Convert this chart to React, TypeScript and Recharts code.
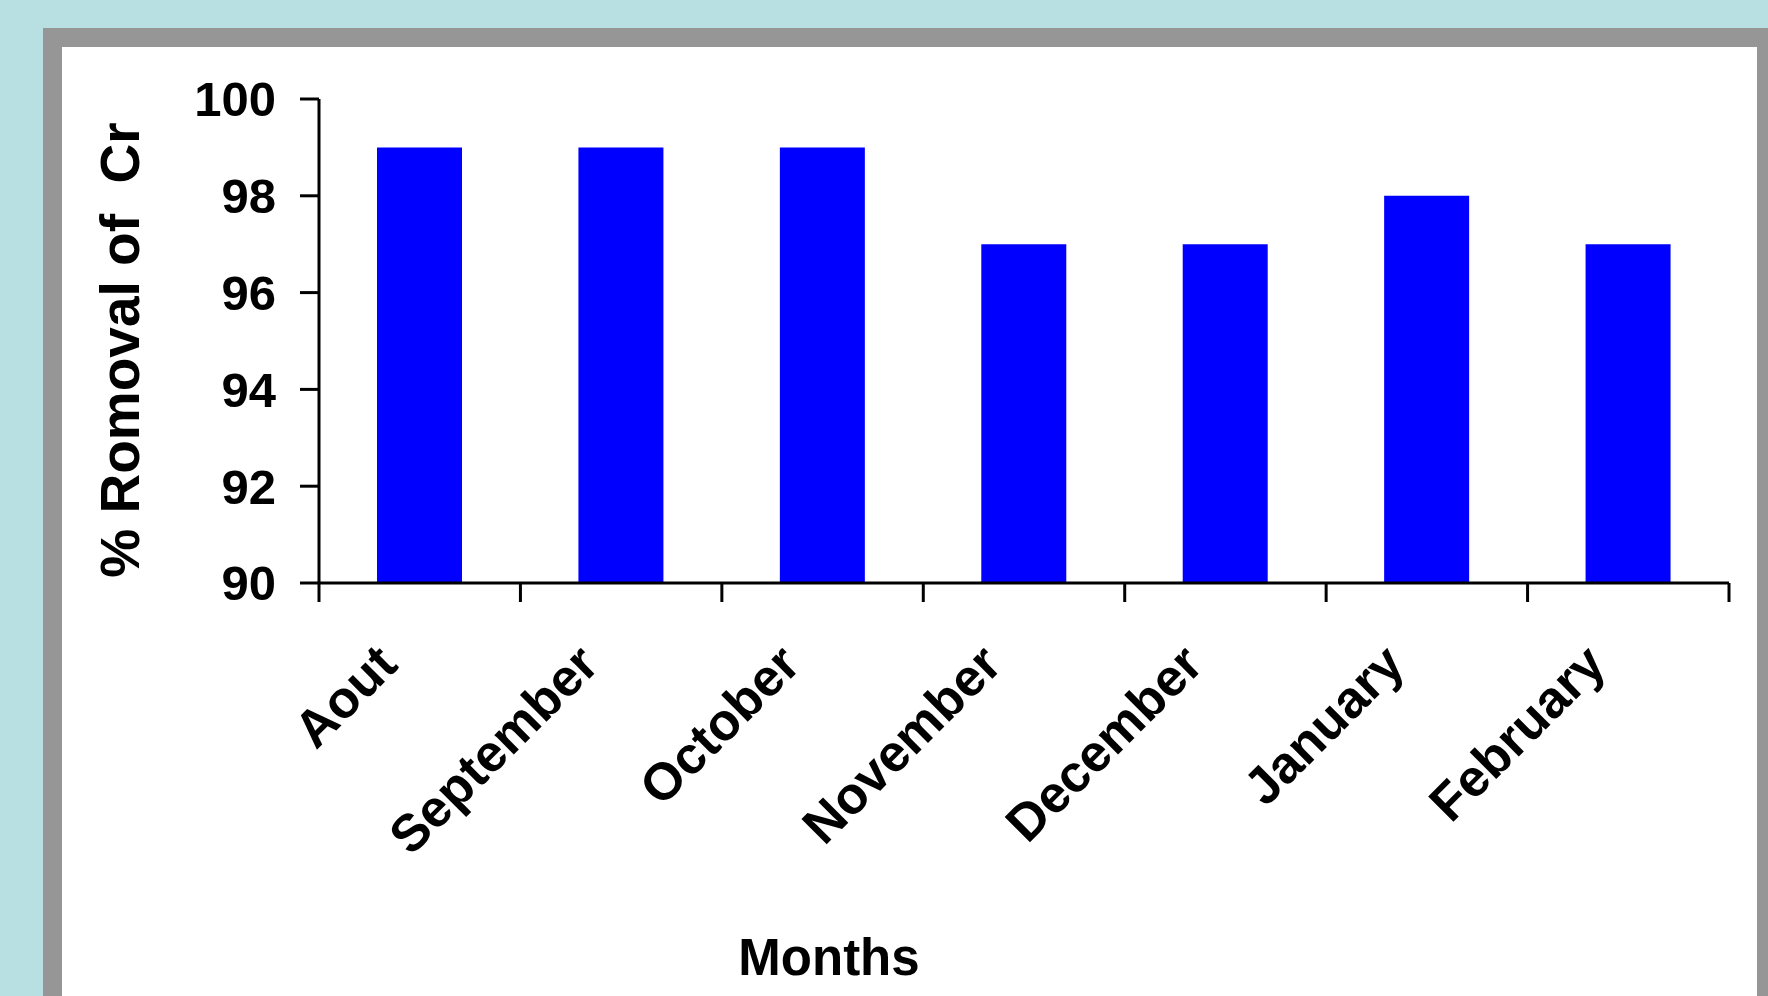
import { BarChart, Bar, XAxis, YAxis } from 'recharts'

const months = ['Aout', 'September', 'October', 'November', 'December', 'January', 'February']
const removal = [99, 99, 99, 97, 97, 98, 97]
const yTicks = [90, 92, 94, 96, 98, 100]

const data = months.map((m, i) => ({ month: m, removal: removal[i] }))

const CHART_W = 1768
const CHART_H = 996
const MARGIN = { top: 99, right: 39, bottom: 0, left: 0 }
const Y_AXIS_W = 319
const X_AXIS_H = CHART_H - MARGIN.top - 484
const BAND = (CHART_W - MARGIN.left - MARGIN.right - Y_AXIS_W) / months.length
const FONT = '"Liberation Sans", Arial, sans-serif'

function MonthTick(props: any) {
    const { x, y, payload, index } = props
    const half = BAND / 2
    const tx = x - 20
    const ty = y + 84
    return (
        <g>
            <line x1={x - half} x2={x - half} y1={y} y2={y + 19} stroke="#000" strokeWidth={3} />
            {index === months.length - 1 && (
                <line x1={x + half} x2={x + half} y1={y} y2={y + 19} stroke="#000" strokeWidth={3} />
            )}
            <text
                x={tx}
                y={ty}
                transform={`rotate(-45, ${tx}, ${ty})`}
                textAnchor="end"
                fontFamily={FONT}
                fontWeight="bold"
                fontSize={52}
                fill="#000"
            >
                {payload.value}
            </text>
        </g>
    )
}

function YTitle(props: any) {
    const { viewBox } = props
    const cx = viewBox.x + 139
    const cy = viewBox.y + viewBox.height / 2 + 9
    return (
        <text
            x={cx}
            y={cy}
            transform={`rotate(-90, ${cx}, ${cy})`}
            textAnchor="middle"
            fontFamily={FONT}
            fontWeight="bold"
            fontSize={55}
            fill="#000"
            style={{ whiteSpace: 'pre' }}
        >
            {'% Romoval of  Cr'}
        </text>
    )
}

function XTitle(props: any) {
    const { viewBox } = props
    return (
        <text
            x={829}
            y={viewBox.y + 392}
            textAnchor="middle"
            fontFamily={FONT}
            fontWeight="bold"
            fontSize={51}
            fill="#000"
        >
            Months
        </text>
    )
}

export default function App() {
    return (
        <div style={{ position: 'fixed', left: 0, top: 0, width: CHART_W, height: CHART_H, background: '#b8dfe2', overflow: 'hidden' }}>
            <div style={{ position: 'absolute', left: 43, top: 28, width: CHART_W - 43, height: CHART_H, background: '#969696' }} />
            <div style={{ position: 'absolute', left: 62, top: 47, width: 1757 - 62, height: CHART_H, background: '#ffffff' }} />
            <div style={{ position: 'absolute', left: 0, top: 0 }}>
                <BarChart width={CHART_W} height={CHART_H} data={data} margin={MARGIN}>
                    <XAxis
                        dataKey="month"
                        height={X_AXIS_H}
                        interval={0}
                        tickLine={false}
                        tickSize={0}
                        tickMargin={0}
                        axisLine={{ stroke: '#000', strokeWidth: 3 }}
                        tick={<MonthTick />}
                        label={{ content: <XTitle /> }}
                    />
                    <YAxis
                        width={Y_AXIS_W}
                        domain={[90, 100]}
                        ticks={yTicks}
                        allowDataOverflow
                        tickSize={19}
                        tickMargin={24}
                        axisLine={{ stroke: '#000', strokeWidth: 3 }}
                        tickLine={{ stroke: '#000', strokeWidth: 3 }}
                        tick={{ fill: '#000', fontSize: 49, fontWeight: 'bold', fontFamily: FONT }}
                        label={{ content: <YTitle /> }}
                    />
                    <Bar dataKey="removal" fill="#0000ff" barSize={85} isAnimationActive={false} />
                </BarChart>
            </div>
        </div>
    )
}
